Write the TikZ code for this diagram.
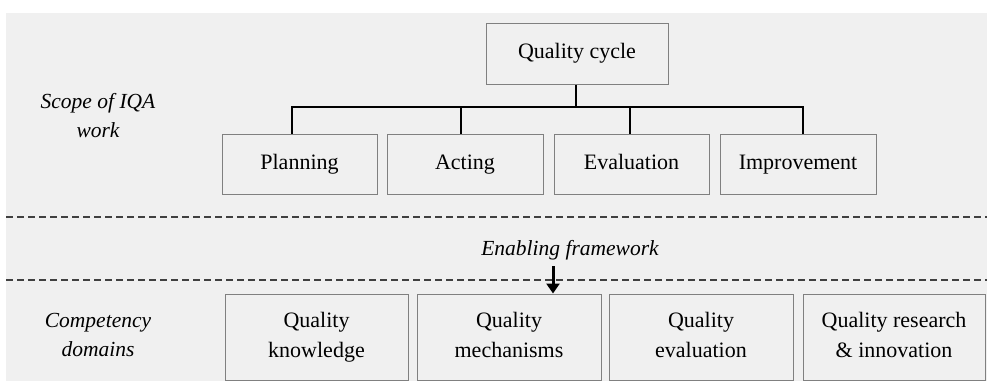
\documentclass[tikz,border=0pt]{standalone}
\usepackage{fontspec}
\setmainfont{Liberation Serif}
\usetikzlibrary{arrows.meta}
\newcommand{\ls}{\vphantom{Qg}}
\begin{document}
\begin{tikzpicture}[x=1pt,y=-1pt,
  box/.style={draw=black!50,line width=1pt,fill=black!6,inner sep=0pt,font=\fontsize{22}{30}\selectfont,align=center},
  onebox/.style={box,text height=15pt,text depth=5pt},
  lbl/.style={font=\fontsize{21.5}{29}\selectfont\itshape,align=center},
  link/.style={line width=2pt},
  sep/.style={draw=black!75,line width=1.2pt,dash pattern=on 7pt off 4pt}]
\useasboundingbox (0,0) rectangle (987,381);
\fill[black!6] (6,13) rectangle (987,381);
% top
\node[onebox,minimum width=182pt,minimum height=61pt] (qc) at (577,53.5) {Quality cycle};
\node[onebox,minimum width=155pt,minimum height=60pt] (pl) at (299.5,164) {Planning};
\node[onebox,minimum width=156pt,minimum height=60pt] (ac) at (465,164) {Acting};
\node[onebox,minimum width=155pt,minimum height=60pt] (ev) at (631.5,164) {Evaluation};
\node[onebox,minimum width=156pt,minimum height=60pt] (im) at (798,164) {Improvement};
\coordinate (bar) at (576,107);
\draw[link] (qc.south -| bar) -- (bar);
\draw[link,line cap=rect] (292,107) -- (803,107);
\draw[link] (292,107) -- (292,134);
\draw[link] (461,107) -- (461,134);
\draw[link] (630,107) -- (630,134);
\draw[link] (803,107) -- (803,134);
\node[lbl] (scope) at (98,118) {Scope of IQA\ls\\work\ls};
% separators
\draw[sep] (6,217) -- (987,217);
\draw[sep] (6,280) -- (987,280);
\node[lbl] (ef) at (570,250) {Enabling framework};
% bottom
\node[box,minimum width=183pt,minimum height=86pt] (qk) at (316.5,337) {Quality\ls\\knowledge\ls};
\node[box,minimum width=184pt,minimum height=86pt] (qm) at (509,337) {Quality\ls\\mechanisms\ls};
\node[box,minimum width=184pt,minimum height=86pt] (qe) at (701,337) {Quality\ls\\evaluation\ls};
\node[box,minimum width=182pt,minimum height=86pt] (qr) at (894,337) {Quality research\ls\\\& innovation\ls};
\coordinate (arrtop) at (553,266);
\draw[line width=3pt,-{Triangle[length=10pt,width=13pt]}] (arrtop) -- (arrtop |- qm.north);
\node[lbl] (cd) at (98,337) {Competency\ls\\domains\ls};
\end{tikzpicture}
\end{document}
